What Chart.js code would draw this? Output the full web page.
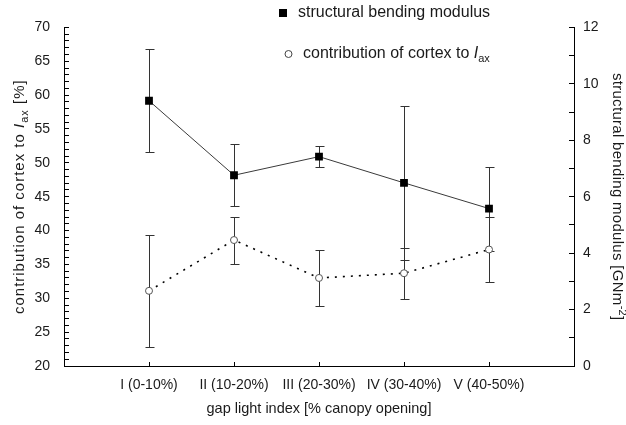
<!DOCTYPE html>
<html>
<head>
<meta charset="utf-8">
<script src="https://cdn.jsdelivr.net/npm/chart.js@4.4.0/dist/chart.umd.min.js"></script>
<style>
  html, body { margin: 0; padding: 0; background: #fff; }
</style>
</head>
<body>
<canvas id="gapChart" width="626" height="425"></canvas>
<script>
// Clases de luz (gap light index)
const categories = ["I (0-10%)", "II (10-20%)", "III (20-30%)", "IV (30-40%)", "V (40-50%)"];

// Módulo de flexión estructural [GNm-2] (eje derecho) y su desviación
const modulus = [9.4, 6.76, 7.42, 6.49, 5.58];
const modulusErr = [1.82, 1.09, 0.38, 2.74, 1.49];

// Contribución de la corteza a I_ax [%] (eje izquierdo) y su desviación
const cortex = [31.1, 38.6, 33.0, 33.7, 37.2];
const cortexErr = [8.24, 3.47, 4.19, 3.76, 4.84];

const FONT = "'Liberation Sans', Arial, sans-serif";
const INK = "#1a1a1a";

// Barras de error, se pintan antes que los puntos para que queden debajo
const errorBars = {
  id: "errorBars",
  beforeDatasetsDraw(chart) {
    const ctx = chart.ctx;
    chart.data.datasets.forEach((ds, i) => {
      const meta = chart.getDatasetMeta(i);
      const scale = chart.scales[ds.yAxisID];
      ctx.save();
      ctx.strokeStyle = "#333";
      ctx.lineWidth = 1;
      meta.data.forEach((pt, j) => {
        const v = ds.data[j].y, e = ds.errors[j];
        const x = Math.round(pt.x) + 0.5;
        const top = Math.round(scale.getPixelForValue(v + e)) + 0.5;
        const bot = Math.round(scale.getPixelForValue(v - e)) + 0.5;
        ctx.beginPath();
        ctx.moveTo(x, top); ctx.lineTo(x, bot);
        ctx.moveTo(x - 4, top); ctx.lineTo(x + 5, top);
        ctx.moveTo(x - 4, bot); ctx.lineTo(x + 5, bot);
        ctx.stroke();
      });
      ctx.restore();
    });
  }
};

// Texto con trozos en cursiva / subíndice / superíndice, centrado en (0,0)
function drawRuns(ctx, runs, size, spacing) {
  const fontFor = r => (r.italic ? "italic " : "") + (r.sub || r.sup ? Math.round(size * 0.7) : size) + "px " + FONT;
  ctx.letterSpacing = (spacing || 0) + "px";
  let total = 0;
  runs.forEach(r => { ctx.font = fontFor(r); total += ctx.measureText(r.text).width; });
  let x = -total / 2;
  ctx.textBaseline = "middle";
  ctx.textAlign = "left";
  runs.forEach(r => {
    ctx.font = fontFor(r);
    const dy = r.sub ? size * 0.3 : r.sup ? -size * 0.35 : 0;
    ctx.fillText(r.text, x, dy);
    x += ctx.measureText(r.text).width;
  });
  return total;
}

// Títulos de los ejes verticales y leyenda
const decorations = {
  id: "decorations",
  afterDraw(chart) {
    const ctx = chart.ctx;
    const area = chart.chartArea;
    const midY = (area.top + area.bottom) / 2;
    ctx.save();
    ctx.fillStyle = INK;

    ctx.save();
    ctx.translate(20, midY);
    ctx.rotate(-Math.PI / 2);
    drawRuns(ctx, [
      { text: "contribution of cortex to " },
      { text: "I", italic: true },
      { text: "ax", sub: true },
      { text: " [%]" }
    ], 15, 1);
    ctx.restore();

    ctx.save();
    ctx.translate(617, midY);
    ctx.rotate(Math.PI / 2);
    drawRuns(ctx, [
      { text: "structural bending modulus [GNm" },
      { text: "-2", sup: true },
      { text: "]" }
    ], 15, 0.3);
    ctx.restore();

    // leyenda
    ctx.fillStyle = "#000";
    ctx.fillRect(279, 9, 8, 8);
    ctx.beginPath();
    ctx.arc(288.5, 54, 3.5, 0, Math.PI * 2);
    ctx.strokeStyle = "#444";
    ctx.lineWidth = 1;
    ctx.stroke();
    ctx.fillStyle = INK;

    ctx.save();
    ctx.font = "16px " + FONT;
    ctx.textBaseline = "middle";
    ctx.fillText("structural bending modulus", 298, 13);
    ctx.restore();

    ctx.save();
    ctx.translate(303, 54);
    const runs = [
      { text: "contribution of cortex to " },
      { text: "I", italic: true },
      { text: "ax", sub: true }
    ];
    let w = 0;
    runs.forEach(r => {
      ctx.font = (r.italic ? "italic " : "") + (r.sub ? 11 : 16) + "px " + FONT;
      w += ctx.measureText(r.text).width;
    });
    ctx.translate(w / 2, 0);
    drawRuns(ctx, runs, 16, 0);
    ctx.restore();
    ctx.restore();
  }
};

const toPoints = vals => vals.map((v, i) => ({ x: i + 1, y: v }));

new Chart("gapChart", {
  type: "line",
  data: {
    datasets: [
      {
        label: "structural bending modulus",
        data: toPoints(modulus),
        errors: modulusErr,
        yAxisID: "y1",
        borderColor: "#3a3a3a",
        borderWidth: 1,
        pointStyle: "rect",
        pointRadius: 5.5,
        pointBorderWidth: 0,
        pointBackgroundColor: "#000",
        order: 1
      },
      {
        label: "contribution of cortex to Iax",
        data: toPoints(cortex),
        errors: cortexErr,
        yAxisID: "y",
        borderColor: "#000",
        borderWidth: 1.6,
        borderDash: [2, 6],
        pointStyle: "circle",
        pointRadius: 3.5,
        pointBorderWidth: 1,
        pointBorderColor: "#555",
        pointBackgroundColor: "#fff",
        order: 2
      }
    ]
  },
  options: {
    responsive: false,
    animation: false,
    layout: { padding: { top: 20, left: 0, right: 0, bottom: 0 } },
    plugins: { legend: { display: false }, tooltip: { enabled: false } },
    scales: {
      x: {
        type: "linear",
        min: 0,
        max: 6,
        afterFit: s => { s.height = 59; },
        border: { color: "#000", width: 1 },
        grid: { drawOnChartArea: false, color: "#000", tickLength: -4 },
        ticks: {
          stepSize: 1,
          autoSkip: false,
          maxRotation: 0,
          padding: 15,
          color: INK,
          font: { family: FONT, size: 14 },
          callback: v => categories[v - 1] || ""
        },
        title: {
          display: true,
          text: "gap light index [% canopy opening]",
          color: INK,
          font: { family: FONT, size: 14.5 },
          padding: { top: 0, bottom: 7 }
        }
      },
      y: {
        position: "left",
        min: 20,
        max: 70,
        afterFit: s => { s.width = 64; },
        border: { color: "#000", width: 1 },
        grid: { drawOnChartArea: false, color: "#000", tickLength: -5 },
        ticks: {
          stepSize: 1,
          autoSkip: false,
          padding: 19,
          color: INK,
          font: { family: FONT, size: 14 },
          callback: v => (v % 5 === 0 ? v : "")
        }
      },
      y1: {
        position: "right",
        min: 0,
        max: 12,
        afterFit: s => { s.width = 52; },
        border: { color: "#000", width: 1 },
        grid: { drawOnChartArea: false, color: "#000", tickLength: -5 },
        ticks: {
          stepSize: 1,
          autoSkip: false,
          padding: 14,
          color: INK,
          font: { family: FONT, size: 14 },
          callback: v => (v % 2 === 0 ? v : "")
        }
      }
    }
  },
  plugins: [errorBars, decorations]
});
</script>
</body>
</html>
